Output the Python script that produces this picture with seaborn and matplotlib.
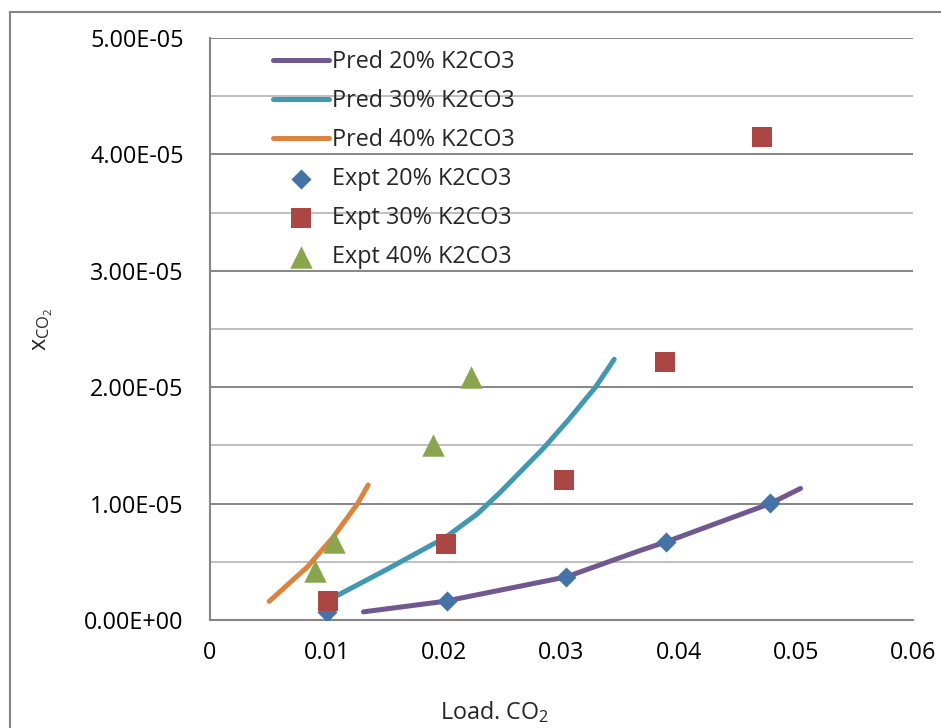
import numpy as np
import pandas as pd
import seaborn as sns
import matplotlib
matplotlib.use("Agg")
import matplotlib.pyplot as plt
from matplotlib.patches import Rectangle
from matplotlib.ticker import FuncFormatter, MultipleLocator

# ---------------- data ----------------
pred20_x = [0.0131, 0.0200, 0.0304, 0.0368, 0.0389, 0.0478, 0.0504]
pred20_y = [0.07e-5, 0.16e-5, 0.37e-5, 0.60e-5, 0.67e-5, 1.00e-5, 1.13e-5]

pred30_x = [0.0101, 0.0150, 0.0201, 0.0228, 0.0248, 0.0285, 0.0306, 0.0329, 0.0345]
pred30_y = [0.17e-5, 0.43e-5, 0.71e-5, 0.91e-5, 1.10e-5, 1.48e-5, 1.72e-5, 2.00e-5, 2.24e-5]

pred40_x = [0.00505, 0.0083, 0.0105, 0.0126, 0.0135]
pred40_y = [0.16e-5, 0.455e-5, 0.71e-5, 1.00e-5, 1.16e-5]

expt20_x = [0.0100, 0.0202, 0.0304, 0.0389, 0.0478]
expt20_y = [0.07e-5, 0.163e-5, 0.37e-5, 0.67e-5, 1.005e-5]

expt30_x = [0.0101, 0.0201, 0.0302, 0.0388, 0.0471]
expt30_y = [0.163e-5, 0.65e-5, 1.20e-5, 2.22e-5, 4.15e-5]

expt40_x = [0.0090, 0.0106, 0.0190, 0.0223]
expt40_y = [0.42e-5, 0.67e-5, 1.50e-5, 2.09e-5]

x_ticks = [0, 0.01, 0.02, 0.03, 0.04, 0.05, 0.06]
x_tick_labels = ["0", "0.01", "0.02", "0.03", "0.04", "0.05", "0.06"]

# ---------------- style ----------------
sns.set_style("white")
plt.rcParams["font.family"] = ["Open Sans", "DejaVu Sans"]
plt.rcParams["mathtext.fontset"] = "custom"
plt.rcParams["mathtext.rm"] = "Open Sans"

C_PURPLE = "#71588F"
C_TEAL = "#4198AF"
C_ORANGE = "#DB843D"
C_BLUE = "#4572A7"
C_RED = "#AA4643"
C_GREEN = "#89A54E"
GRID_MAJOR = "#868686"
GRID_MINOR = "#BFBFBF"
FS = 16.8

fig = plt.figure(figsize=(9.41, 7.28), dpi=100)
ax = fig.add_axes([210/941, 1-620/728, (913-210)/941, (620-38)/728])

lw = 3.6
sns.lineplot(x=pred20_x, y=pred20_y, ax=ax, color=C_PURPLE, lw=lw, sort=False,
             label="Pred 20% K2CO3", solid_capstyle="round", zorder=3)
sns.lineplot(x=pred30_x, y=pred30_y, ax=ax, color=C_TEAL, lw=lw, sort=False,
             label="Pred 30% K2CO3", solid_capstyle="round", zorder=3)
sns.lineplot(x=pred40_x, y=pred40_y, ax=ax, color=C_ORANGE, lw=lw, sort=False,
             label="Pred 40% K2CO3", solid_capstyle="round", zorder=3)

sns.scatterplot(x=expt20_x, y=expt20_y, ax=ax, color=C_BLUE, marker="D", s=105,
                linewidth=0, label="Expt 20% K2CO3", zorder=4)
sns.scatterplot(x=expt30_x, y=expt30_y, ax=ax, color=C_RED, marker="s", s=200,
                linewidth=0, label="Expt 30% K2CO3", zorder=5)
sns.scatterplot(x=expt40_x, y=expt40_y, ax=ax, color=C_GREEN, marker="^", s=260,
                linewidth=0, label="Expt 40% K2CO3", zorder=6)

ax.set_xlim(0, 0.06)
ax.set_ylim(0, 5e-5)
ax.set_xticks(x_ticks)
ax.set_xticklabels(x_tick_labels)
ax.yaxis.set_major_locator(MultipleLocator(1e-5))
ax.yaxis.set_minor_locator(MultipleLocator(0.5e-5))
ax.yaxis.set_major_formatter(FuncFormatter(lambda v, p: f"{v:.2E}"))

ax.grid(False)
ax.yaxis.grid(True, which="major", color=GRID_MAJOR, lw=1.4, zorder=1)
ax.yaxis.grid(True, which="minor", color=GRID_MINOR, lw=1.4, zorder=1)
ax.set_axisbelow(True)

for s in ["top", "right"]:
    ax.spines[s].set_visible(False)
ax.spines["left"].set_color(GRID_MAJOR)
ax.spines["left"].set_linewidth(1.5)
ax.spines["bottom"].set_color(GRID_MAJOR)
ax.spines["bottom"].set_linewidth(1.5)

ax.tick_params(axis="both", which="both", length=0, labelsize=FS, colors="black")
ax.tick_params(axis="y", pad=19)
ax.tick_params(axis="x", pad=15)

ax.set_xlabel("Load. $\\mathregular{CO_2}$", fontsize=FS, va="center")
ax.xaxis.set_label_coords(0.405, -0.158)
ax.set_ylabel("$\\mathregular{x_{CO_2}}$", fontsize=FS, va="center")
ax.yaxis.set_label_coords(-0.237, 0.5)

leg = ax.legend(loc="upper left", bbox_to_anchor=(0.07, 1.003), frameon=False,
                fontsize=FS, handlelength=2.4, handletextpad=0.12,
                labelspacing=0.64, borderaxespad=0.2)

# outer chart-area border
fig.patches.append(Rectangle((10/941, -0.1), 1.2, 1 - 12/728 + 0.1,
                             transform=fig.transFigure, fill=False,
                             edgecolor=GRID_MAJOR, lw=1.5))

fig.savefig("out.png", dpi=100)
